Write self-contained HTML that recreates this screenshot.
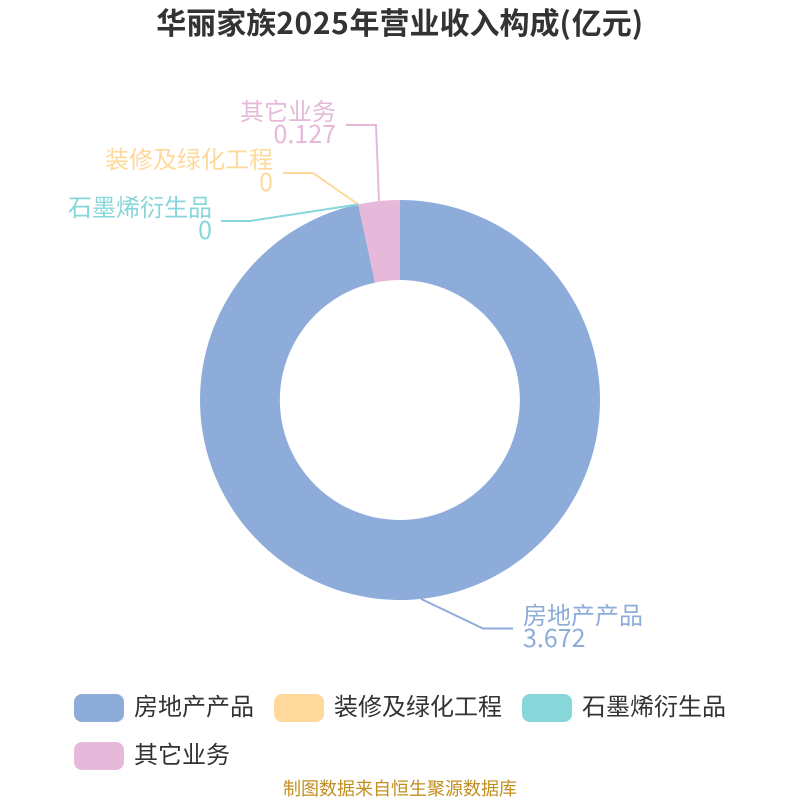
<!DOCTYPE html>
<html><head><meta charset="utf-8"><style>
html,body{margin:0;padding:0;background:#fff;width:800px;height:800px;overflow:hidden}
svg{display:block;position:absolute;left:0;top:0}
div{position:absolute;white-space:nowrap;font-family:"Noto Sans CJK SC",sans-serif;font-size:24px;line-height:24px}
.r{text-align:right}
.n{font-size:25px}
</style></head><body>
<svg width="800" height="800" viewBox="0 0 800 800" xmlns="http://www.w3.org/2000/svg">
<path d="M400 200A200 200 0 1 1 358.3 204.4L375 282.6A120 120 0 1 0 400 280Z" fill="#8EACDA"/>
<path d="M358.3 204.4A200 200 0 0 1 400 200L400 280A120 120 0 0 0 375 282.6Z" fill="#E6B8D9"/>
<g fill="none" stroke-width="2">
<path d="M379 201L376 125H346" stroke="#E6B8D9"/>
<path d="M358.3 204.4L313 173H283" stroke="#FFD99B"/>
<path d="M358.3 204.4L250 221H221" stroke="#87D7DA"/>
<path d="M421 598.9L483 628.5H513" stroke="#8EACDA"/>
</g>
<rect x="74" y="694" width="50" height="28" rx="8" fill="#8EACDA"/>
<rect x="274" y="694" width="50" height="28" rx="8" fill="#FFD99B"/>
<rect x="522" y="694" width="50" height="28" rx="8" fill="#87D7DA"/>
<rect x="74" y="742" width="50" height="28" rx="8" fill="#E6B8D9"/>
</svg>
<div style="left:0;width:800px;top:6px;text-align:center;font-size:30px;line-height:30px;font-weight:700;color:#333">华丽家族<span style="letter-spacing:.6px">2025</span>年营业收入构成<span style="letter-spacing:1px">(</span>亿元<span style="letter-spacing:.6px">)</span></div>
<div class="r" style="right:464px;top:98px;color:#E6B8D9">其它业务</div>
<div class="r n" style="right:464px;top:121px;color:#E6B8D9">0.127</div>
<div class="r" style="right:527px;top:146px;color:#FFD99B">装修及绿化工程</div>
<div class="r n" style="right:527px;top:169px;color:#FFD99B">0</div>
<div class="r" style="right:588px;top:194px;color:#87D7DA">石墨烯衍生品</div>
<div class="r n" style="right:588px;top:217px;color:#87D7DA">0</div>
<div style="left:523px;top:602px;color:#8EACDA">房地产产品</div>
<div class="n" style="left:523px;top:625px;color:#8EACDA">3.672</div>
<div style="left:134px;top:693px;color:#333">房地产产品</div>
<div style="left:334px;top:693px;color:#333">装修及绿化工程</div>
<div style="left:582px;top:693px;color:#333">石墨烯衍生品</div>
<div style="left:134px;top:741px;color:#333">其它业务</div>
<div style="left:0;width:800px;top:779px;text-align:center;font-size:18px;line-height:18px;color:#C28F1F">制图数据来自恒生聚源数据库</div>
</body></html>
